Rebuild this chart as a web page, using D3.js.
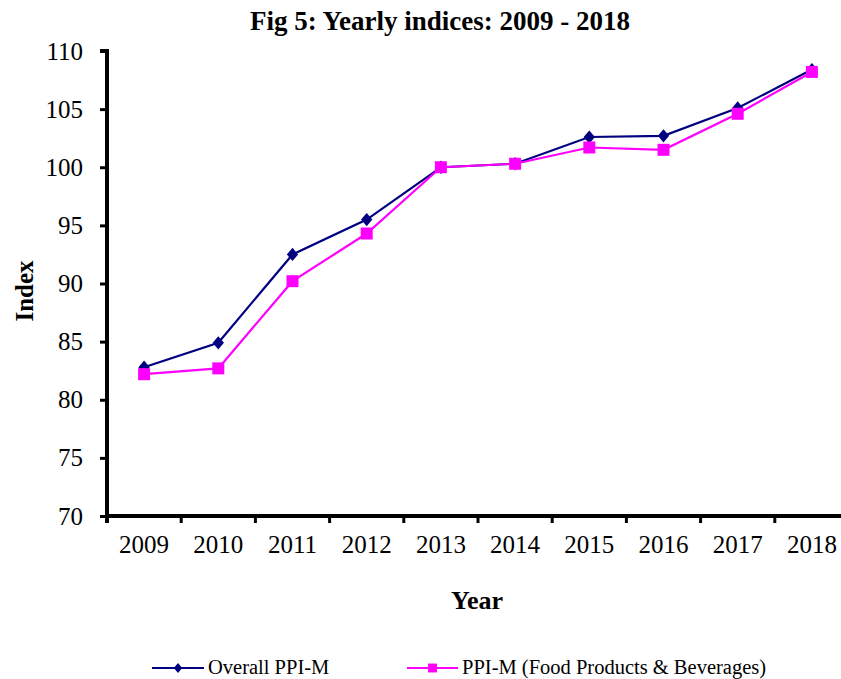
<!DOCTYPE html>
<html>
<head>
<meta charset="utf-8">
<script src="https://cdn.jsdelivr.net/npm/d3@7"></script>
<style>
  body { margin: 0; background: #fff; }
  svg text { font-family: "Liberation Serif", "Times New Roman", serif; }
</style>
</head>
<body>
<div id="chart"></div>
<script>
// data
const years = ["2009", "2010", "2011", "2012", "2013", "2014", "2015", "2016", "2017", "2018"];
const overall = [82.8, 84.9, 92.5, 95.5, 100.0, 100.3, 102.6, 102.7, 105.1, 108.4];
const food = [82.2, 82.7, 90.2, 94.3, 100.0, 100.3, 101.7, 101.5, 104.6, 108.2];
const yTicks = [70, 75, 80, 85, 90, 95, 100, 105, 110];

const W = 841, H = 679;
const mLeft = 107, mRight = 849, mTop = 51, mBottom = 516;

const svg = d3.select("#chart").append("svg")
  .attr("width", W).attr("height", H);

const x = d3.scaleBand().domain(years).range([mLeft, mRight]);
const y = d3.scaleLinear().domain([70, 110]).range([mBottom, mTop]);

// a squatter diamond than d3.symbolDiamond
const squatDiamond = {
  draw(ctx, size) {
    const h = Math.sqrt(size) * 0.7, w = h * 0.85;
    ctx.moveTo(0, -h); ctx.lineTo(w, 0); ctx.lineTo(0, h); ctx.lineTo(-w, 0); ctx.closePath();
  }
};

// title
svg.append("text")
  .attr("x", 440).attr("y", 30)
  .attr("text-anchor", "middle")
  .attr("font-size", 27).attr("font-weight", "bold")
  .text("Fig 5: Yearly indices: 2009 - 2018");

// y axis
const yAxis = svg.append("g")
  .attr("transform", `translate(${mLeft},0)`)
  .call(d3.axisLeft(y).tickValues(yTicks).tickSize(7).tickPadding(17));
yAxis.select(".domain").attr("stroke-width", 4).attr("d", `M-7,${mTop}H0V${mBottom}`);
yAxis.selectAll(".tick line").attr("stroke-width", 3);
yAxis.selectAll(".tick text").attr("font-size", 25).attr("fill", "#000")
  .style("font-family", "'Liberation Serif', serif");

// x axis, ticks at category boundaries
const xAxis = svg.append("g")
  .attr("transform", `translate(0,${mBottom})`);
xAxis.append("line")
  .attr("x1", mLeft - 2).attr("x2", W)
  .attr("stroke", "#000").attr("stroke-width", 4);
xAxis.selectAll(".xt")
  .data(years.slice(1))
  .enter().append("line")
    .attr("x1", d => x(d)).attr("x2", d => x(d))
    .attr("y1", 0).attr("y2", 7)
    .attr("stroke", "#000").attr("stroke-width", 3);
xAxis.append("line")
  .attr("x1", mLeft).attr("x2", mLeft).attr("y1", 0).attr("y2", 7)
  .attr("stroke", "#000").attr("stroke-width", 4);
xAxis.selectAll(".xl")
  .data(years)
  .enter().append("text")
    .attr("x", d => x(d) + x.bandwidth() / 2)
    .attr("y", 37)
    .attr("text-anchor", "middle")
    .attr("font-size", 25)
    .text(d => d);

// axis titles
svg.append("text")
  .attr("transform", "translate(33,291) rotate(-90)")
  .attr("text-anchor", "middle")
  .attr("font-size", 25).attr("font-weight", "bold")
  .text("Index");
svg.append("text")
  .attr("x", 477).attr("y", 609)
  .attr("text-anchor", "middle")
  .attr("font-size", 26).attr("font-weight", "bold")
  .text("Year");

const cx = d => x(d) + x.bandwidth() / 2;
const line = d3.line().x(d => cx(d.year)).y(d => y(d.v));

const series = [
  { name: "Overall PPI-M", color: "#000080", values: overall, shape: squatDiamond, size: 90 },
  { name: "PPI-M (Food Products & Beverages)", color: "#ff00ff", values: food, shape: d3.symbolSquare, size: 144 }
];

series.forEach(s => {
  const pts = years.map((yr, i) => ({ year: yr, v: s.values[i] }));
  svg.append("path")
    .datum(pts)
    .attr("d", line)
    .attr("fill", "none")
    .attr("stroke", s.color)
    .attr("stroke-width", 2.2);
  svg.selectAll(null)
    .data(pts)
    .enter().append("path")
      .attr("transform", d => `translate(${cx(d.year)},${y(d.v)})`)
      .attr("d", d3.symbol().type(s.shape).size(s.size))
      .attr("fill", s.color);
});

// legend
const legendItems = [
  { x0: 152, x1: 204, tx: 208 },
  { x0: 407, x1: 458, tx: 462 }
];
series.forEach((s, i) => {
  const li = legendItems[i];
  const g = svg.append("g");
  g.append("line")
    .attr("x1", li.x0).attr("x2", li.x1)
    .attr("y1", 668).attr("y2", 668)
    .attr("stroke", s.color).attr("stroke-width", 2.2);
  g.append("path")
    .attr("transform", `translate(${(li.x0 + li.x1) / 2},668)`)
    .attr("d", d3.symbol().type(s.shape).size(s.size * 0.55))
    .attr("fill", s.color);
  g.append("text")
    .attr("x", li.tx).attr("y", 674)
    .attr("font-size", 20.5)
    .text(s.name);
});
</script>
</body>
</html>
